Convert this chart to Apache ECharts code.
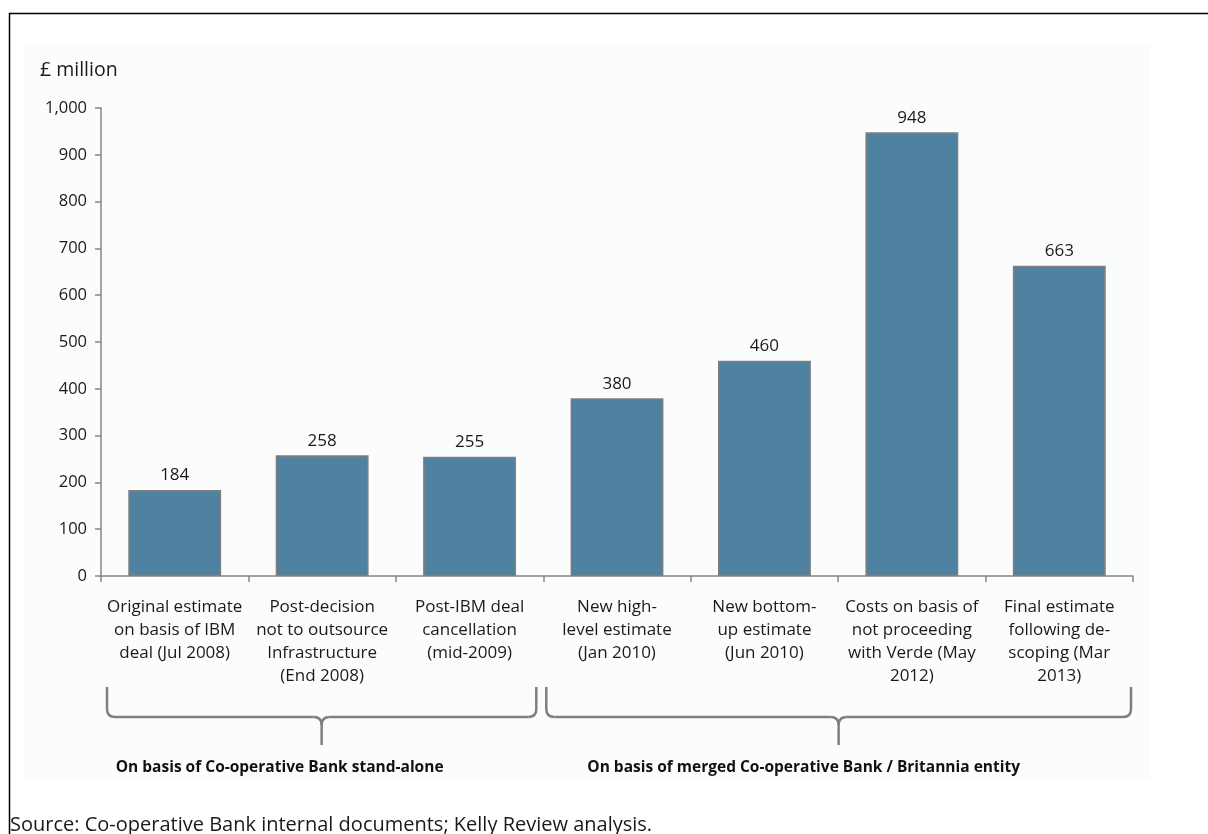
<!DOCTYPE html>
<html>
<head>
<meta charset="utf-8">
<script src="https://cdn.jsdelivr.net/npm/echarts@6/dist/echarts.min.js"></script>
<style>
html,body{margin:0;padding:0;background:#fff;}
#chart{width:1208px;height:834px;}
</style>
</head>
<body>
<div id="chart"></div>
<script>
const categories = [
  "Original estimate\non basis of IBM\ndeal (Jul 2008)",
  "Post-decision\nnot to outsource\nInfrastructure\n(End 2008)",
  "Post-IBM deal\ncancellation\n(mid-2009)",
  "New high-\nlevel estimate\n(Jan 2010)",
  "New bottom-\nup estimate\n(Jun 2010)",
  "Costs on basis of\nnot proceeding\nwith Verde (May\n2012)",
  "Final estimate\nfollowing de-\nscoping (Mar\n2013)"
];
const values = [184, 258, 255, 380, 460, 948, 663];
const groups = [
  { label: "On basis of Co-operative Bank stand-alone", from: 0, to: 3 },
  { label: "On basis of merged Co-operative Bank / Britannia entity", from: 3, to: 7 }
];
const yUnit = "£ million";
const source = "Source: Co-operative Bank internal documents; Kelly Review analysis.";

const FONT = "'Open Sans', sans-serif";
const chart = echarts.init(document.getElementById('chart'), null, {renderer: 'canvas'});

const option = {
  animation: false,
  backgroundColor: '#ffffff',
  grid: { left: 101, right: 75, top: 108, bottom: 258 },
  xAxis: {
    type: 'category',
    data: categories,
    axisLine: { lineStyle: { color: '#868686', width: 1.5 } },
    axisTick: { show: true, length: 6, lineStyle: { color: '#868686', width: 1.5 } },
    axisLabel: {
      interval: 0, margin: 20, color: '#1a1a1a',
      fontFamily: FONT, fontSize: 17, lineHeight: 23, align: 'center'
    }
  },
  yAxis: {
    type: 'value', min: 0, max: 1000, interval: 100,
    splitLine: { show: false },
    axisLine: { show: true, lineStyle: { color: '#868686', width: 1.5 } },
    axisTick: { show: true, length: 6, lineStyle: { color: '#868686', width: 1.5 } },
    axisLabel: {
      margin: 14, color: '#1a1a1a', fontFamily: FONT, fontSize: 16.5,
      formatter: v => v.toLocaleString('en-GB')
    }
  },
  series: [{
    type: 'bar',
    data: values,
    barCategoryGap: '37%',
    itemStyle: { color: '#4f81a0', borderColor: '#7f7f7f', borderWidth: 1.5 },
    label: {
      show: true, position: 'top', distance: 6, color: '#1a1a1a',
      fontFamily: FONT, fontSize: 17
    }
  }]
};
chart.setOption(option);

// Build annotations from the axis scale
const c0 = chart.convertToPixel({xAxisIndex: 0}, 0);
const c1 = chart.convertToPixel({xAxisIndex: 0}, 1);
const band = c1 - c0;
const boundary = i => c0 - band / 2 + i * band;
const graphics = [];

// page frame and light panel
graphics.push({ type: 'rect', z: -10, silent: true,
  shape: { x: 23, y: 45, width: 1127, height: 735 },
  style: { fill: '#fbfcfc' } });
graphics.push({ type: 'polyline', z: 10, silent: true,
  shape: { points: [[9.5, 900], [9.5, 13.5], [1300, 13.5]] },
  style: { stroke: '#000', lineWidth: 1.5, fill: null } });

graphics.push({ type: 'text', x: 40, y: 70,
  style: { text: yUnit, fontFamily: FONT, fontSize: 19.5, fill: '#1a1a1a', verticalAlign: 'middle' } });

const BR = { stroke: '#7f7f7f', lineWidth: 2.5, fill: null };
const insets = [[6, 7], [3, 2]];
const labelShift = [-42, -35];
groups.forEach((g, gi) => {
  const x1 = boundary(g.from) + insets[gi][0];
  const x2 = boundary(g.to) - insets[gi][1];
  const xm = (x1 + x2) / 2;
  const yTop = 687, yH = 717, yTip = 745, r = 8;
  const lines = [
    [x1, yTop, x1, yH - r], [x1 + r, yH, xm - r, yH], [xm, yH + r, xm, yTip],
    [xm + r, yH, x2 - r, yH], [x2, yH - r, x2, yTop]
  ];
  lines.forEach(l => graphics.push({ type: 'line', silent: true,
    shape: { x1: l[0], y1: l[1], x2: l[2], y2: l[3] }, style: BR }));
  const curves = [
    [x1, yH - r, x1 + r, yH, x1, yH],
    [xm - r, yH, xm, yH + r, xm, yH],
    [xm, yH + r, xm + r, yH, xm, yH],
    [x2 - r, yH, x2, yH - r, x2, yH]
  ];
  curves.forEach(c => graphics.push({ type: 'bezierCurve', silent: true,
    shape: { x1: c[0], y1: c[1], x2: c[2], y2: c[3], cpx1: c[4], cpy1: c[5] }, style: BR }));
  graphics.push({ type: 'text', silent: true,
    x: xm + labelShift[gi], y: 768,
    style: { text: g.label, fontFamily: FONT, fontSize: 15.5, fontWeight: 'bold',
      fill: '#111', align: 'center', verticalAlign: 'middle' } });
});

graphics.push({ type: 'text', x: 10, y: 825,
  style: { text: source, fontFamily: FONT, fontSize: 20, fill: '#1a1a1a', verticalAlign: 'middle' } });

chart.setOption({ graphic: graphics });
</script>
</body>
</html>
